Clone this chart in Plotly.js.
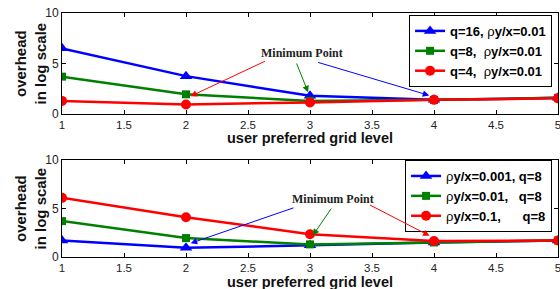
<!DOCTYPE html>
<html><head><meta charset="utf-8">
<script src="https://cdn.plot.ly/plotly-3.0.1.min.js"></script>
<style>body{margin:0;padding:0;background:#fff}#c{width:560px;height:289px}</style>
</head><body><div id="c"></div>
<script>
// ---- data ----
const gridLevels = [1, 2, 3, 4, 5];
// top panel: varying q, rho y/x = 0.01
const topNames = ['q=16, <span style="font-weight:normal">ρ</span>y/x=0.01',
                  'q=8,&nbsp; <span style="font-weight:normal">ρ</span>y/x=0.01',
                  'q=4,&nbsp; <span style="font-weight:normal">ρ</span>y/x=0.01'];
const topQ16 = [6.5, 3.75, 1.8, 1.4, 1.6];
const topQ8  = [3.7, 1.95, 1.3, 1.4, 1.6];
const topQ4  = [1.3, 0.95, 1.15, 1.4, 1.55];
// bottom panel: varying rho y/x, q = 8
const botNames = ['<span style="font-weight:normal">ρ</span>y/x=0.001, q=8',
                  '<span style="font-weight:normal">ρ</span>y/x=0.01,&nbsp;&nbsp; q=8',
                  '<span style="font-weight:normal">ρ</span>y/x=0.1,&nbsp;&nbsp;&nbsp;&nbsp;&nbsp; q=8'];
const botR001 = [1.7, 0.95, 1.2, 1.5, 1.7];
const botR01  = [3.7, 1.95, 1.3, 1.5, 1.7];
const botR1   = [6.1, 4.1, 2.35, 1.65, 1.7];
const xTickVals = [1, 1.5, 2, 2.5, 3, 3.5, 4, 4.5, 5];
const xTickText = ['1', '1.5', '2', '2.5', '3', '3.5', '4', '4.5', '5'];
const yTickVals = [0, 5, 10];

const BLUE = '#0000ff', GREEN = '#008000', RED = '#ff0000';
const FONT = 'Liberation Sans, Arial, sans-serif';

function line(y, name, color, symbol, size, xa, ya, leg) {
  return {x: gridLevels, y: y, name: name, type: 'scatter', mode: 'lines+markers',
    xaxis: xa, yaxis: ya, legend: leg,
    line: {color: color, width: 2.5},
    marker: {color: color, symbol: symbol, size: size}};
}
function hl(series, idx, color, symbol, size, xa, ya) {
  return {x: [gridLevels[idx]], y: [series[idx]], type: 'scatter', mode: 'markers',
    xaxis: xa, yaxis: ya, showlegend: false, hoverinfo: 'skip',
    marker: {color: 'rgba(0,0,0,0)', symbol: symbol, size: size, line: {color: color, width: 1}}};
}
function argmin(a) { let m = 0; a.forEach((v, i) => { if (v < a[m]) m = i; }); return m; }

const traces = [
  line(topQ16, topNames[0], BLUE, 'triangle-up', 11, 'x', 'y', 'legend'),
  line(topQ8, topNames[1], GREEN, 'square', 8, 'x', 'y', 'legend'),
  line(topQ4, topNames[2], RED, 'circle', 10, 'x', 'y', 'legend'),
  hl(topQ8, argmin(topQ8), GREEN, 'square-open', 14, 'x', 'y'),
  hl(topQ4, argmin(topQ4), RED, 'circle-open', 16, 'x', 'y'),
  line(botR001, botNames[0], BLUE, 'triangle-up', 11, 'x2', 'y2', 'legend2'),
  line(botR01, botNames[1], GREEN, 'square', 8, 'x2', 'y2', 'legend2'),
  line(botR1, botNames[2], RED, 'circle', 10, 'x2', 'y2', 'legend2'),
  hl(botR01, argmin(botR01), GREEN, 'square-open', 14, 'x2', 'y2'),
  hl(botR1, 3, RED, 'circle-open', 16, 'x2', 'y2')
];

function xax(anchor) {
  return {anchor: anchor, range: [1, 5], tickvals: xTickVals, ticktext: xTickText,
    ticks: 'inside', ticklen: 4, tickcolor: '#000', showline: true, linecolor: '#000', linewidth: 1,
    mirror: 'ticks', showgrid: false, zeroline: false, ticklabeloverflow: 'allow',
    tickfont: {family: FONT, size: 11.5, color: '#222'}};
}
function yax(anchor, domain) {
  return {anchor: anchor, domain: domain, range: [0, 10], tickvals: yTickVals,
    ticks: 'inside', ticklen: 4, tickcolor: '#000', showline: true, linecolor: '#000', linewidth: 1,
    mirror: 'ticks', showgrid: false, zeroline: false,
    tickfont: {family: FONT, size: 12, color: '#222'}};
}
function legend(y) {
  return {x: 0.988, y: y, xanchor: 'right', yanchor: 'top', bgcolor: '#fff',
    bordercolor: '#000', borderwidth: 1, font: {family: FONT, size: 13, color: '#000', weight: 'bold'},
    tracegroupgap: 0, itemwidth: 30};
}
function arrow(xr, yr, hx, hy, tx, ty, color) {
  return {xref: xr, yref: yr, axref: xr, ayref: yr, x: hx, y: hy, ax: tx, ay: ty, text: '',
    showarrow: true, arrowhead: 2, arrowsize: 1.3, arrowwidth: 1, arrowcolor: color, standoff: 5};
}
function label(xr, yr, x, y) {
  return {xref: xr, yref: yr, x: x, y: y, text: '<b>Minimum Point</b>', showarrow: false,
    font: {family: 'Liberation Serif, Times New Roman, serif', size: 12, color: '#222'}};
}
function ytitle(yr) {
  return {xref: 'paper', yref: yr + ' domain', x: 0, y: 0.5, xanchor: 'center', yanchor: 'middle',
    xshift: -31, textangle: -90, showarrow: false, text: '<b>overhead<br>in log scale</b>',
    font: {family: FONT, size: 15, color: '#111'}};
}
function xtitle(xr, yr, shift) {
  return {xref: xr + ' domain', yref: yr + ' domain', x: 0.5, y: 0, xanchor: 'center', yanchor: 'middle',
    yshift: shift, showarrow: false, text: '<b>user preferred grid level</b>',
    font: {family: FONT, size: 14.5, color: '#111'}};
}

const layout = {
  width: 560, height: 289, paper_bgcolor: '#fff', plot_bgcolor: '#fff',
  margin: {l: 62, r: 2, t: 13, b: 32},
  showlegend: true,
  xaxis: xax('y'), yaxis: yax('x', [0.586, 1]),
  xaxis2: xax('y2'), yaxis2: yax('x2', [0, 0.3975]),
  legend: legend(0.992), legend2: legend(0.3975),
  annotations: [
    ytitle('y'), ytitle('y2'),
    xtitle('x', 'y', -24), xtitle('x2', 'y2', -24.5),
    label('x', 'y', 2.935, 6.0),
    arrow('x', 'y', gridLevels[1], topQ4[1] + 0.6, 2.65, 5.3, RED),
    arrow('x', 'y', gridLevels[2], topQ8[2] + 0.4, 2.887, 5.15, GREEN),
    arrow('x', 'y', gridLevels[3], topQ16[3] + 0.3, 3.054, 5.15, BLUE),
    label('x2', 'y2', 3.184, 5.95),
    arrow('x2', 'y2', gridLevels[1], botR001[1] + 0.3, 2.879, 5.12, BLUE),
    arrow('x2', 'y2', gridLevels[2], botR01[2] + 0.5, 3.18, 5.15, GREEN),
    arrow('x2', 'y2', gridLevels[3], botR1[3] + 0.3, 3.47, 5.45, RED)
  ]
};
Plotly.newPlot('c', traces, layout, {displayModeBar: false, staticPlot: true});
</script></body></html>
